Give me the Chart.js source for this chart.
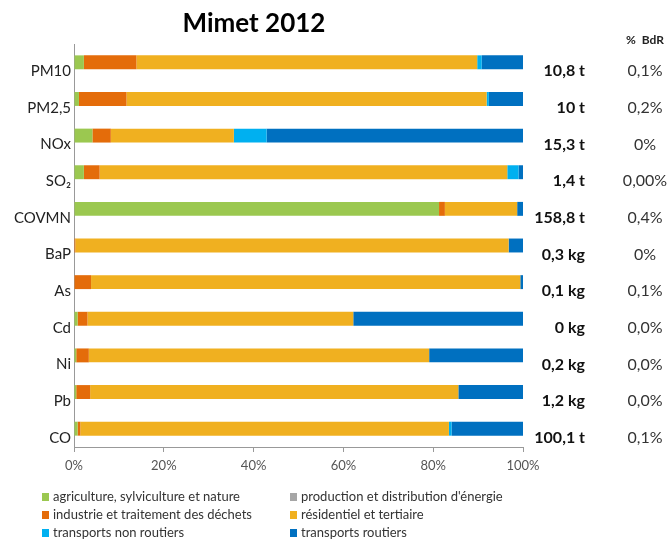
<!DOCTYPE html>
<html><head><meta charset="utf-8">
<script src="https://cdn.jsdelivr.net/npm/chart.js@4"></script>
<style>html,body{margin:0;padding:0;background:#fff}#wrap{width:670px;height:540px;position:relative}</style>
</head><body><div id="wrap"><canvas id="c" width="670" height="540"></canvas></div>
<script>
const categories = ["PM10","PM2,5","NOx","SO\u2082","COVMN","BaP","As","Cd","Ni","Pb","CO"];
const agriculture = [2.2,1.1,4.1,2.2,81.3,0,0,0.8,0.5,0.5,0.8];
const production = [0,0,0,0,0,0,0,0,0,0,0];
const industrie = [11.7,10.6,4.1,3.5,1.3,0.3,3.8,2.2,2.8,3.1,0.6];
const residentiel = [75.9,80.2,27.4,90.8,16.1,96.5,95.6,59.2,75.8,82.0,82.1];
const transportsNonRoutiers = [1.0,0.5,7.3,2.5,0,0,0,0,0,0,0.6];
const transportsRoutiers = [9.2,7.6,57.1,1.0,1.3,3.2,0.6,37.8,20.9,14.4,15.9];
const totals = ["10,8 t","10 t","15,3 t","1,4 t","158,8 t","0,3 kg","0,1 kg","0 kg","0,2 kg","1,2 kg","100,1 t"];
const partBdR = ["0,1%","0,2%","0%","0,00%","0,4%","0%","0,1%","0,0%","0,0%","0,0%","0,1%"];
const xTicks = [0,20,40,60,80,100];

const FONT = "Lato, 'Liberation Sans', sans-serif";
const mk = (label, data, color) => ({label, data, backgroundColor: color, borderWidth: 0, barPercentage: 0.38, categoryPercentage: 1});

const overlay = {
  id: 'overlay',
  afterDraw(chart) {
    const ctx = chart.ctx, y = chart.scales.y;
    ctx.save();
    ctx.fillStyle = '#000';
    ctx.font = "bold 26px " + FONT;
    ctx.textAlign = 'center'; ctx.textBaseline = 'alphabetic';
    ctx.fillText("Mimet 2012", 254, 32);
    ctx.font = "bold 12px " + FONT;
    ctx.fillStyle = '#222';
    ctx.fillText("%  BdR", 645, 44);
    ctx.textBaseline = 'middle';
    categories.forEach((c, i) => {
      const py = y.getPixelForValue(i) + 9;
      ctx.font = "bold 16px " + FONT; ctx.fillStyle = '#111'; ctx.textAlign = 'right';
      ctx.fillText(totals[i], 585, py);
      ctx.font = "16px " + FONT; ctx.fillStyle = '#333'; ctx.textAlign = 'center';
      ctx.fillText(partBdR[i], 645, py);
    });
    // legend
    ctx.font = "13px " + FONT; ctx.textAlign = 'left';
    chart.data.datasets.forEach((ds, i) => {
      const col = i % 2, row = Math.floor(i / 2);
      const bx = col === 0 ? 42 : 290, by = 497 + row * 18;
      ctx.fillStyle = ds.backgroundColor;
      ctx.fillRect(bx, by - 4, 7, 8);
      ctx.fillStyle = '#333';
      ctx.fillText(ds.label, bx + 11, by);
    });
    ctx.restore();
  }
};

new Chart(document.getElementById('c'), {
  type: 'bar',
  data: {
    labels: categories,
    datasets: [
      mk("agriculture, sylviculture et nature", agriculture, '#9BC850'),
      mk("production et distribution d'énergie", production, '#A6A6A6'),
      mk("industrie et traitement des déchets", industrie, '#E46C0A'),
      mk("résidentiel et tertiaire", residentiel, '#F0B020'),
      mk("transports non routiers", transportsNonRoutiers, '#00B0F0'),
      mk("transports routiers", transportsRoutiers, '#0070C0')
    ]
  },
  options: {
    indexAxis: 'y',
    responsive: false,
    animation: false,
    layout: {padding: {top: 44, right: 147, left: 0, bottom: 0}},
    plugins: {legend: {display: false}, title: {display: false}, tooltip: {enabled: false}},
    scales: {
      x: {
        stacked: true, min: 0, max: 100,
        afterFit(s) { s.height = 93; },
        afterBuildTicks(s) { s.ticks = xTicks.map(v => ({value: v})); },
        grid: {drawOnChartArea: false, drawTicks: true, tickLength: 5, color: '#999'},
        border: {display: true, color: '#999'},
        ticks: {callback: v => v + '%', color: '#555', font: {family: FONT, size: 13}, padding: 6, maxRotation: 0}
      },
      y: {
        stacked: true,
        afterFit(s) { s.width = 74; },
        grid: {drawOnChartArea: false, drawTicks: false},
        border: {display: true, color: '#999'},
        ticks: {color: '#222', font: {family: FONT, size: 15}, padding: 3, labelOffset: 9}
      }
    }
  },
  plugins: [overlay]
});
</script></body></html>
